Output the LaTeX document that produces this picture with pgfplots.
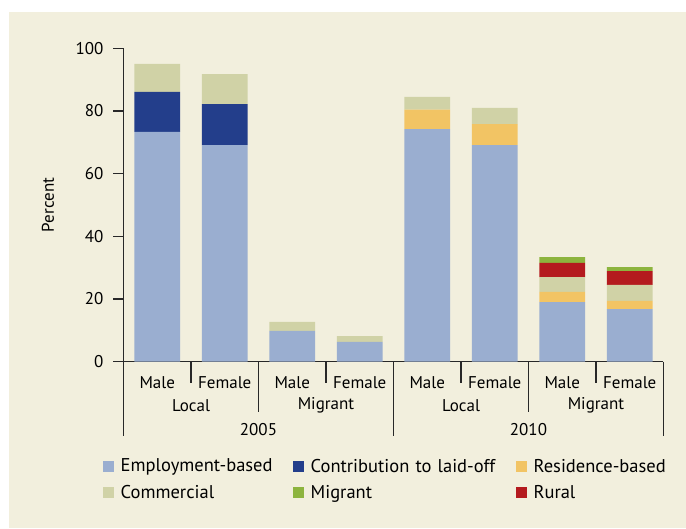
\documentclass[border=0pt]{standalone}
\usepackage{fontspec}
\setmainfont{PT Sans}
\usepackage{pgfplots}
\usepackage{pgfplotstable}
\pgfplotsset{compat=1.18}
\definecolor{bgc}{RGB}{242,239,221}
\definecolor{emp}{RGB}{154,174,208}
\definecolor{con}{RGB}{35,62,139}
\definecolor{res}{RGB}{242,196,100}
\definecolor{com}{RGB}{208,210,166}
\definecolor{mig}{RGB}{141,180,62}
\definecolor{rur}{RGB}{180,26,30}
\definecolor{axc}{RGB}{40,40,40}
\pgfplotstableread{
x emp con res com rur mig
0 73.3 12.8 0 8.9 0 0
1 69.1 13.1 0 9.6 0 0
2 9.8 0 0 2.9 0 0
3 6.3 0 0 1.9 0 0
4 74.2 0 6.2 4.1 0 0
5 69.1 0 6.7 5.2 0 0
6 19.0 0 3.3 4.7 4.5 1.9
7 16.8 0 2.6 5.1 4.4 1.3
}\datatable
\begin{document}
\begin{tikzpicture}[font=\fontsize{17pt}{20pt}\selectfont]
\fill[bgc] (9pt,-12pt) rectangle (686pt,-528pt);
\begin{axis}[
  at={(123.5pt,-361.7pt)}, anchor=south west,
  scale only axis, width=540pt, height=313.4pt,
  xmin=-0.5, xmax=7.5, ymin=0, ymax=100,
  ybar stacked, bar width=0.68,
  axis x line*=bottom, axis y line*=left,
  axis line style={axc, line width=1.2pt, -},
  ytick={0,20,...,100},
  tick align=outside, major tick length=10pt,
  ytick style={axc, line width=1.2pt},
  xtick style={draw=none},
  xtick={0,...,7},
  xticklabels={Male,Female,Male,Female,Male,Female,Male,Female},
  xticklabel style={anchor=center, yshift=-10.5pt},
  yticklabel style={inner sep=0pt, xshift=-10pt},
  /pgf/number format/assume math mode=true,
  clip=false,
  legend columns=3,
  legend style={draw=none, fill=none, at={(rel axis cs:0,0)}, anchor=north west,
    xshift=-24pt, yshift=-93pt, row sep=8pt,
    font=\fontsize{18.5pt}{21pt}\selectfont,
    /tikz/every odd column/.style={column sep=5pt}},
  legend cell align=left,
]
\addplot[fill=emp, draw=none, forget plot] table[x=x, y=emp] {\datatable};
\addplot[fill=con, draw=none, forget plot] table[x=x, y=con] {\datatable};
\addplot[fill=res, draw=none, forget plot] table[x=x, y=res] {\datatable};
\addplot[fill=com, draw=none, forget plot] table[x=x, y=com] {\datatable};
\addplot[fill=rur, draw=none, forget plot] table[x=x, y=rur] {\datatable};
\addplot[fill=mig, draw=none, forget plot] table[x=x, y=mig] {\datatable};
\pgfplotsset{legend image code/.code={\path[fill] (0pt,-5.5pt) rectangle (11pt,5.5pt);}}
\addlegendimage{fill=emp, draw=none}
\addlegendentry[text width=170pt]{Employment-based}
\addlegendimage{fill=con, draw=none}
\addlegendentry[text width=203pt]{Contribution to laid-off}
\addlegendimage{fill=res, draw=none}
\addlegendentry{Residence-based}
\addlegendimage{fill=com, draw=none}
\addlegendentry[text width=170pt]{Commercial}
\addlegendimage{fill=mig, draw=none}
\addlegendentry[text width=203pt]{Migrant}
\addlegendimage{fill=rur, draw=none}
\addlegendentry{Rural}
% hierarchical separators
\pgfplotsinvokeforeach{0.5,2.5,4.5,6.5}{
  \draw[axc, line width=1.2pt] (axis cs:#1,0) -- ([yshift=-21pt]axis cs:#1,0);}
\pgfplotsinvokeforeach{1.5,5.5}{
  \draw[axc, line width=1.2pt] (axis cs:#1,0) -- ([yshift=-50pt]axis cs:#1,0);}
\pgfplotsinvokeforeach{-0.5,3.5,7.5}{
  \draw[axc, line width=1.2pt] (axis cs:#1,0) -- ([yshift=-74pt]axis cs:#1,0);}
\node at (axis cs:0.5,0) [yshift=-44pt] {Local};
\node at (axis cs:2.5,0) [yshift=-44pt] {Migrant};
\node at (axis cs:4.5,0) [yshift=-44pt] {Local};
\node at (axis cs:6.5,0) [yshift=-44pt] {Migrant};
\node at (axis cs:1.5,0) [yshift=-68pt] {2005};
\node at (axis cs:5.5,0) [yshift=-68pt] {2010};
\end{axis}
\node[rotate=90] at (48pt,-205pt) {Percent};
\pgfresetboundingbox
\path[use as bounding box] (0,0) rectangle (686pt,-528pt);
\end{tikzpicture}
\end{document}
